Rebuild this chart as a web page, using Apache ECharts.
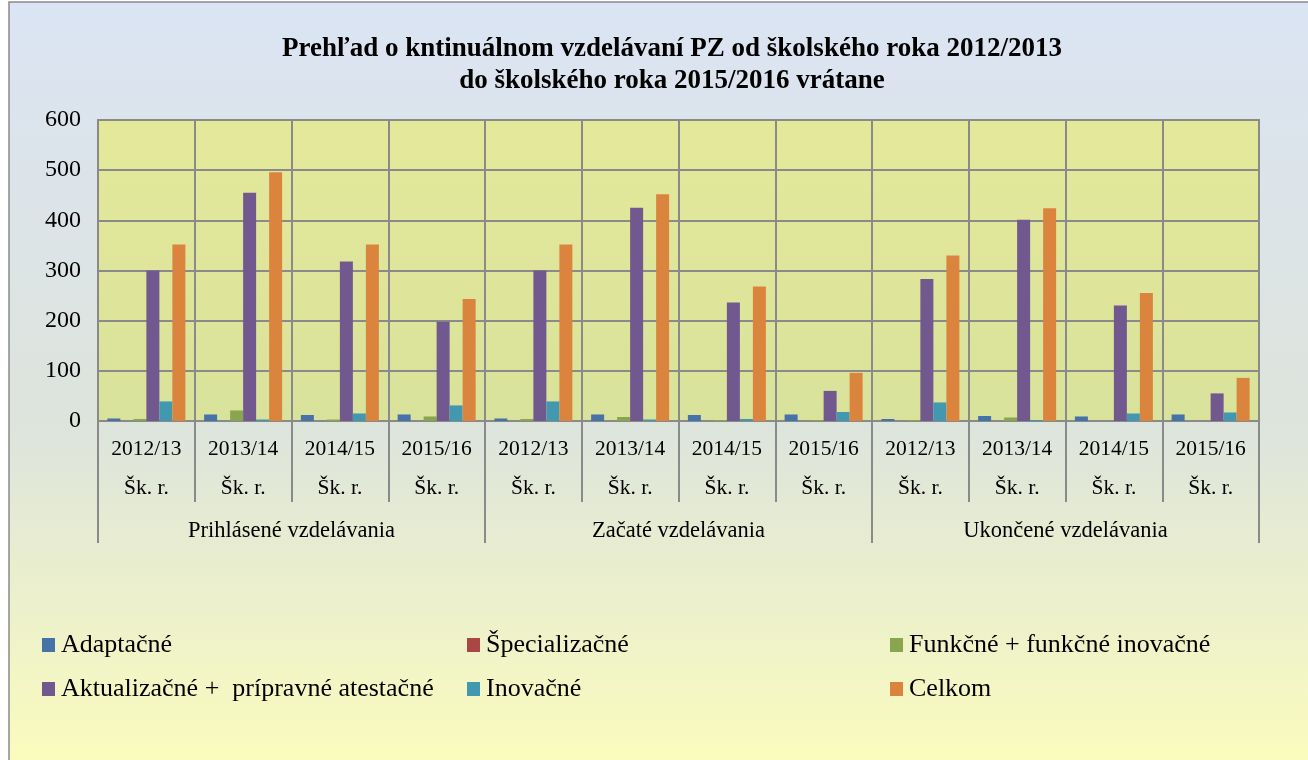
<!DOCTYPE html>
<html>
<head>
<meta charset="utf-8">
<script src="https://cdn.jsdelivr.net/npm/echarts@6/dist/echarts.min.js"></script>
<style>
  html, body { margin: 0; padding: 0; background: #fff; }
  #chart { width: 1308px; height: 760px; }
</style>
</head>
<body>
<div id="chart"></div>
<script>
// school years (inner axis) and the three groups (outer axis)
var years = ['2012/13', '2013/14', '2014/15', '2015/16'];
var groups = ['Prihlásené vzdelávania', 'Začaté vzdelávania', 'Ukončené vzdelávania'];
var yTicks = [0, 100, 200, 300, 400, 500, 600];

var seriesNames = [
  'Adaptačné',
  'Špecializačné',
  'Funkčné + funkčné inovačné',
  'Aktualizačné +  prípravné atestačné',
  'Inovačné',
  'Celkom'
];

// values per category: 4 years x 3 groups
var adaptacne     = [5, 13, 12, 13,   5, 13, 12, 13,   4, 10, 9, 13];
var specializacne = [0, 0, 0, 0,      0, 0, 0, 0,      0, 0, 0, 0];
var funkcne       = [4, 21, 3, 9,     4, 8, 2, 2,      2, 7, 0, 0];
var aktualizacne  = [300, 455, 318, 198,   300, 425, 236, 60,   283, 401, 230, 55];
var inovacne      = [39, 3, 15, 31,   39, 3, 4, 18,    37, 2, 15, 17];
var celkom        = [352, 496, 352, 243,   352, 452, 268, 96,   330, 424, 255, 86];

var colors = ['#4572a7', '#aa4643', '#89a54e', '#71588f', '#4198af', '#db843d'];

var categories = [];
groups.forEach(function () {
  years.forEach(function (y) { categories.push(y + '\nŠk. r.'); });
});

var allData = [adaptacne, specializacne, funkcne, aktualizacne, inovacne, celkom];
var font = 'Liberation Serif, Times New Roman, serif';
var gridColor = '#8a8a8a';

var chart = echarts.init(document.getElementById('chart'));

var option = {
  backgroundColor: '#ffffff',
  color: colors,
  animation: false,
  graphic: [{
    type: 'rect',
    z: -10,
    shape: { x: 9, y: 2, width: 1310, height: 770 },
    style: {
      fill: new echarts.graphic.LinearGradient(0, 0, 0, 1, [
        { offset: 0, color: '#dbe4f3' },
        { offset: 0.55, color: '#dde4dc' },
        { offset: 1, color: '#fbfcbc' }
      ]),
      stroke: '#8a8a8a',
      lineWidth: 1.5
    }
  }],
  title: {
    text: 'Prehľad o kntinuálnom vzdelávaní PZ od školského roka 2012/2013\ndo školského roka 2015/2016 vrátane',
    left: 667,
    top: 28,
    textAlign: 'center',
    textStyle: {
      fontFamily: font,
      fontWeight: 'bold',
      fontSize: 27,
      lineHeight: 32,
      color: '#000'
    }
  },
  legend: [
    { names: [seriesNames[0], seriesNames[3]], left: 42 },
    { names: [seriesNames[1], seriesNames[4]], left: 467 },
    { names: [seriesNames[2], seriesNames[5]], left: 890 }
  ].map(function (c) {
    return {
      data: c.names,
      orient: 'vertical',
      left: c.left,
      top: 632,
      padding: 0,
      itemWidth: 13,
      itemHeight: 14,
      itemGap: 18,
      icon: 'rect',
      textStyle: { fontFamily: font, fontSize: 26, color: '#000', padding: [0, 0, 0, 1] }
    };
  }),
  grid: {
    left: 98,
    right: 49,
    top: 120,
    bottom: 339,
    show: true,
    backgroundColor: new echarts.graphic.LinearGradient(0, 0, 0, 1, [
      { offset: 0, color: '#e4e99a' },
      { offset: 1, color: '#d9e29b' }
    ]),
    borderColor: gridColor,
    borderWidth: 2
  },
  xAxis: [{
    type: 'category',
    data: categories,
    position: 'bottom',
    axisLine: { lineStyle: { color: gridColor, width: 2 } },
    axisTick: { show: true, interval: 0, length: 81, lineStyle: { color: gridColor, width: 2 } },
    splitLine: { show: true, interval: 0, lineStyle: { color: gridColor, width: 2 } },
    axisLabel: {
      interval: 0,
      margin: 9,
      fontFamily: font,
      fontSize: 21.5,
      lineHeight: 39,
      color: '#000'
    }
  }, {
    type: 'category',
    data: groups,
    position: 'bottom',
    offset: 0,
    axisLine: { show: false },
    axisTick: { show: true, interval: 0, length: 122, lineStyle: { color: gridColor, width: 2 } },
    axisLabel: {
      interval: 0,
      margin: 99,
      fontFamily: font,
      fontSize: 22.5,
      color: '#000'
    }
  }],
  yAxis: {
    type: 'value',
    min: yTicks[0],
    max: yTicks[yTicks.length - 1],
    interval: 100,
    axisLine: { show: true, lineStyle: { color: gridColor, width: 2 } },
    axisTick: { show: false },
    splitLine: { lineStyle: { color: gridColor, width: 2 } },
    axisLabel: { margin: 17, fontFamily: font, fontSize: 24, color: '#000' }
  },
  series: seriesNames.map(function (name, i) {
    return {
      name: name,
      type: 'bar',
      xAxisIndex: 0,
      data: allData[i],
      barWidth: 13,
      barGap: '0%'
    };
  })
};

chart.setOption(option);
</script>
</body>
</html>
